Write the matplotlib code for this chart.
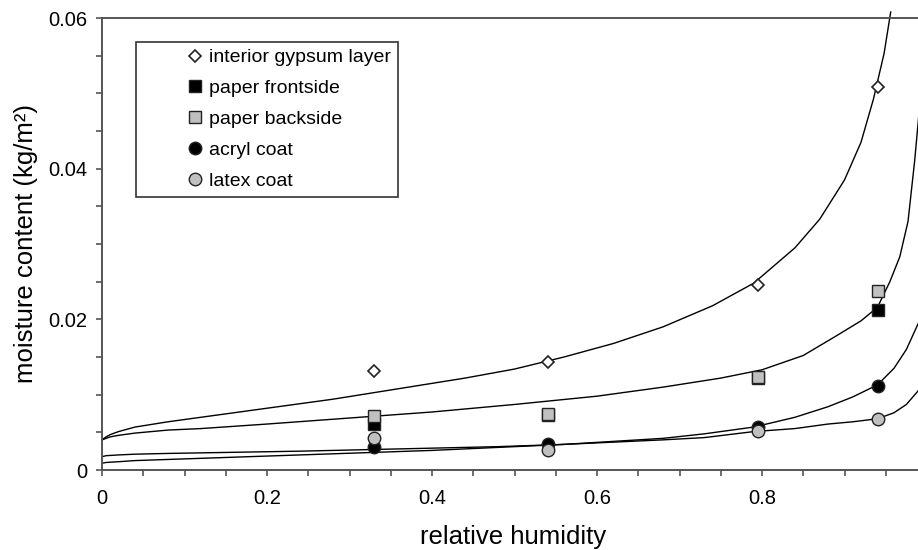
import matplotlib
matplotlib.use("Agg")
import matplotlib.pyplot as plt
from matplotlib.ticker import MultipleLocator

plt.rcParams['font.family'] = ['Liberation Sans', 'DejaVu Sans']

# measured points
rh = [0.33, 0.54, 0.795, 0.94]
gypsum = [0.0131, 0.0144, 0.0246, 0.0509]
frontside = [0.0061, 0.0073, 0.0122, 0.0212]
backside = [0.0072, 0.0075, 0.0124, 0.0237]
acryl = [0.0031, 0.0034, 0.0057, 0.0112]
latex = [0.0042, 0.0026, 0.0052, 0.0068]

# fitted curves
gyp_fit_x = [0, 0.005, 0.01, 0.02, 0.04, 0.08, 0.12, 0.2, 0.28, 0.36, 0.44, 0.5,
             0.56, 0.62, 0.68, 0.74, 0.79, 0.84, 0.87, 0.9, 0.92, 0.935, 0.948, 0.956]
gyp_fit_y = [0.0040, 0.0044, 0.0047, 0.0051, 0.0057, 0.0064, 0.0070, 0.0082, 0.0094,
             0.0108, 0.0122, 0.0134, 0.0150, 0.0168, 0.0190, 0.0218, 0.0248, 0.0295,
             0.0333, 0.0385, 0.0435, 0.0492, 0.0553, 0.0608]
front_fit_x = [0, 0.005, 0.01, 0.02, 0.04, 0.08, 0.12, 0.2, 0.3, 0.4, 0.5, 0.6, 0.68,
               0.75, 0.8, 0.85, 0.89, 0.92, 0.94, 0.955, 0.967, 0.977, 0.985, 0.99]
front_fit_y = [0.0040, 0.0042, 0.0044, 0.0046, 0.0049, 0.0053, 0.0055, 0.0061, 0.0069,
               0.0077, 0.0087, 0.0098, 0.0110, 0.0122, 0.0133, 0.0152, 0.0178, 0.0198,
               0.0216, 0.0250, 0.0283, 0.0330, 0.0410, 0.0470]
acryl_fit_x = [0, 0.005, 0.02, 0.04, 0.08, 0.16, 0.24, 0.32, 0.4, 0.48, 0.56, 0.62,
               0.68, 0.73, 0.79, 0.84, 0.88, 0.91, 0.94, 0.96, 0.975, 0.99]
acryl_fit_y = [0.0009, 0.0010, 0.0011, 0.00125, 0.0014, 0.0017, 0.0020, 0.0023, 0.0026,
               0.0030, 0.0034, 0.0038, 0.0042, 0.0048, 0.0057, 0.0070, 0.0084, 0.0097,
               0.0113, 0.0135, 0.0160, 0.0196]
latex_fit_x = [0, 0.005, 0.02, 0.04, 0.08, 0.16, 0.24, 0.32, 0.4, 0.48, 0.56, 0.62,
               0.68, 0.73, 0.79, 0.84, 0.88, 0.91, 0.94, 0.96, 0.975, 0.99]
latex_fit_y = [0.00177, 0.0019, 0.0020, 0.0021, 0.0022, 0.00235, 0.0025, 0.0027, 0.0029,
               0.0031, 0.0034, 0.0037, 0.0040, 0.0043, 0.0051, 0.0055, 0.0061, 0.0064,
               0.0068, 0.0076, 0.0087, 0.0106]

labels = ["interior gypsum layer", "paper frontside", "paper backside",
          "acryl coat", "latex coat"]

W, H = 918, 550
fig = plt.figure(figsize=(W / 100, H / 100), dpi=100)
ax = fig.add_axes([102 / W, (H - 470) / H, 825 / W, 452 / H])

for fx, fy in [(gyp_fit_x, gyp_fit_y), (front_fit_x, front_fit_y),
               (acryl_fit_x, acryl_fit_y), (latex_fit_x, latex_fit_y)]:
    ax.plot(fx, fy, color='black', lw=1.0, zorder=2, clip_on=False)

gray = '#c0c0c0'
edge = '#222222'
ax.plot(rh, gypsum, ls='none', marker='D', ms=6.5, mfc='white', mec=edge, mew=1.2,
        label=labels[0], zorder=3)
ax.plot(rh, frontside, ls='none', marker='s', ms=8, mfc='black', mec=edge, mew=1.0,
        label=labels[1], zorder=3)
ax.plot(rh, backside, ls='none', marker='s', ms=8, mfc=gray, mec=edge, mew=1.0,
        label=labels[2], zorder=3)
ax.plot(rh, acryl, ls='none', marker='o', ms=9, mfc='black', mec=edge, mew=1.0,
        label=labels[3], zorder=3)
ax.plot(rh, latex, ls='none', marker='o', ms=9, mfc=gray, mec=edge, mew=1.0,
        label=labels[4], zorder=3)

ax.set_xlim(0, 1.0)
ax.set_ylim(0, 0.06)
ax.xaxis.set_minor_locator(MultipleLocator(0.05))
ax.yaxis.set_minor_locator(MultipleLocator(0.005))
ax.set_xticks([0, 0.2, 0.4, 0.6, 0.8])
ax.set_xticklabels(['0', '0.2', '0.4', '0.6', '0.8'])
ax.set_yticks([0, 0.02, 0.04, 0.06])
ax.set_yticklabels(['0', '0.02', '0.04', '0.06'])

spine_c = '#555555'
for s in ['left', 'bottom', 'top', 'right']:
    ax.spines[s].set_color(spine_c)
    ax.spines[s].set_linewidth(1.4)
ax.tick_params(which='both', direction='out', length=4.5, width=1.2, color=spine_c,
               labelsize=14.5, pad=6, top=False, right=False)
ax.tick_params(axis='x', which='major', pad=9)

ax.set_xlabel("relative humidity", fontsize=18.5)
ax.set_ylabel("moisture content (kg/m²)", fontsize=18.5)
ax.xaxis.set_label_coords(0.498, -0.122)
ax.yaxis.set_label_coords(-0.077, 0.502)

leg = ax.legend(loc='upper left', bbox_to_anchor=(0.0412, 0.947), borderaxespad=0,
                fontsize=14, numpoints=1, handlelength=5.4, handletextpad=-2.0,
                labelspacing=0.68, borderpad=0.35, fancybox=False, framealpha=1,
                edgecolor='#333333')
leg.get_frame().set_linewidth(1.2)

fig.savefig("out.png", dpi=100)
